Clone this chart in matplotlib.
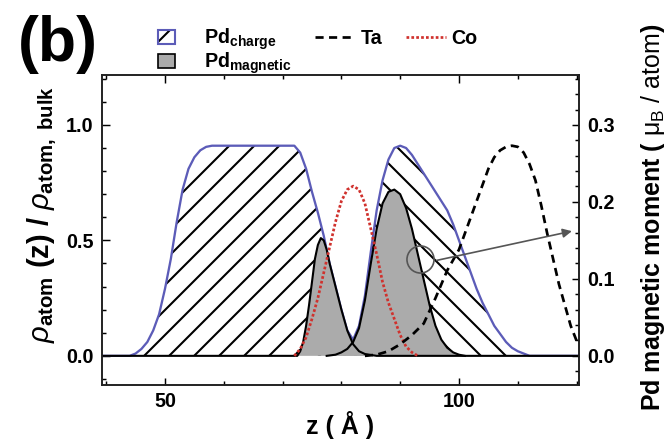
import numpy as np
import matplotlib.pyplot as plt
from matplotlib.patches import Patch, Rectangle
from matplotlib.lines import Line2D
from matplotlib.legend_handler import HandlerPatch, HandlerTuple
from matplotlib.ticker import MultipleLocator

plt.rcParams['font.family'] = ['Liberation Sans', 'DejaVu Sans']
plt.rcParams['font.weight'] = 'bold'
plt.rcParams['mathtext.fontset'] = 'custom'
plt.rcParams['mathtext.rm'] = 'Liberation Sans:weight=normal'
plt.rcParams['mathtext.it'] = 'Liberation Sans:italic:weight=normal'
plt.rcParams['mathtext.bf'] = 'Liberation Sans:bold'
plt.rcParams['hatch.linewidth'] = 1.0

# Pd charge density (rho / rho_bulk)
z_charge = np.array([39, 44, 45, 46, 47, 48, 49, 50, 51, 52, 53, 54, 55, 56, 57, 58,
                     72, 73, 74, 75, 76, 77, 78, 79, 80, 81, 82, 83, 84, 85, 86, 87,
                     88, 89, 90, 91, 92, 93, 94, 95, 96, 97, 98, 99, 100, 101, 102,
                     103, 104, 105, 106, 107, 108, 109, 110, 111, 112, 121])
pd_charge = np.array([0, 0, 0.01, 0.03, 0.06, 0.11, 0.18, 0.29, 0.42, 0.58, 0.72, 0.81,
                      0.86, 0.89, 0.905, 0.91, 0.91, 0.88, 0.81, 0.71, 0.62, 0.52, 0.40,
                      0.30, 0.20, 0.11, 0.07, 0.13, 0.26, 0.45, 0.63, 0.76, 0.85, 0.90,
                      0.91, 0.90, 0.87, 0.83, 0.79, 0.75, 0.71, 0.67, 0.63, 0.57, 0.50,
                      0.43, 0.36, 0.29, 0.23, 0.18, 0.13, 0.095, 0.06, 0.035, 0.02, 0.01,
                      0.0, 0.0])

# Pd magnetic moment (mu_B / atom), lower and upper Pd layer
z_mag1 = np.array([39, 72.5, 73, 73.5, 74, 74.5, 75, 75.5, 76, 76.5, 77, 77.5, 78, 79,
                   80, 81, 82, 83, 84, 86, 121])
pd_mag1 = np.array([0, 0, 0.006, 0.018, 0.039, 0.066, 0.096, 0.126, 0.144, 0.153, 0.150,
                    0.138, 0.120, 0.090, 0.060, 0.033, 0.015, 0.006, 0.0024, 0, 0])
z_mag2 = np.array([77.5, 79, 80, 81, 82, 83, 84, 85, 86, 87, 88, 89, 90, 91, 92, 93, 94,
                   95, 96, 97, 98, 99, 100, 101])
pd_mag2 = np.array([0, 0.0015, 0.0045, 0.009, 0.018, 0.036, 0.072, 0.12, 0.165, 0.198,
                    0.213, 0.216, 0.21, 0.192, 0.165, 0.132, 0.099, 0.066, 0.039, 0.021,
                    0.0105, 0.0045, 0.0015, 0])

# Co and Ta densities
z_co = np.array([72, 73, 74, 75, 76, 77, 78, 79, 80, 81, 82, 83, 84, 85, 86, 87, 88, 89,
                 90, 91, 92, 93])
co = np.array([0, 0.03, 0.08, 0.16, 0.25, 0.36, 0.47, 0.58, 0.67, 0.72, 0.735, 0.72,
               0.66, 0.55, 0.44, 0.32, 0.23, 0.16, 0.09, 0.04, 0.015, 0])
z_ta = np.array([84, 86, 88, 90, 92, 94, 96, 98, 100, 101, 102, 103, 104, 105, 106, 107,
                 108, 109, 110, 111, 112, 113, 114, 115, 116, 117, 118, 119, 120])
ta = np.array([0, 0.005, 0.02, 0.05, 0.09, 0.14, 0.25, 0.37, 0.46, 0.53, 0.60, 0.67,
               0.74, 0.81, 0.86, 0.89, 0.905, 0.91, 0.905, 0.88, 0.83, 0.76, 0.65, 0.53,
               0.42, 0.31, 0.22, 0.13, 0.065])

blue = '#5c5cb8'
gray = '#ababab'
red = '#d0312d'

fig = plt.figure(figsize=(667 / 150, 444 / 150), dpi=150)
ax = fig.add_axes([0.153, 0.133, 0.715, 0.698])
ax2 = ax.twinx()

ax.fill_between(z_charge, pd_charge, where=z_charge <= 82, hatch='//',
                facecolor='white', edgecolor='black', linewidth=0)
ax.fill_between(z_charge, pd_charge, where=z_charge >= 82, hatch='\\\\',
                facecolor='white', edgecolor='black', linewidth=0)
ax.plot(z_charge, pd_charge, color=blue, lw=1.1)

ax2.fill_between(z_mag1, pd_mag1, facecolor=gray, edgecolor='none')
ax2.fill_between(z_mag2, pd_mag2, facecolor=gray, edgecolor='none')
ax2.plot(z_mag1, pd_mag1, color='black', lw=1.0)
ax2.plot(z_mag2, pd_mag2, color='black', lw=1.0)
ax2.plot(z_co, co, color=red, ls=(0, (1, 0.8)), lw=1.3, transform=ax.transData)
ax2.plot(z_ta, ta, color='black', ls=(0, (3, 2)), lw=1.3, transform=ax.transData)

# circle + arrow pointing at the right axis
ax2.plot([93.4], [0.42], marker='o', ms=13, mfc='none', mec='#555555', mew=0.8,
         transform=ax.transData)
ax2.annotate('', xy=(119.2, 0.162), xytext=(96.2, 0.124),
             arrowprops=dict(arrowstyle='-|>', color='#555555', lw=0.8,
                             mutation_scale=9, shrinkA=0, shrinkB=0))

ax.set_xlim(39.3, 120.4)
ax.set_ylim(-0.126, 1.216)
ax2.set_ylim(-0.126 * 0.3, 1.216 * 0.3)

ax.xaxis.set_major_locator(MultipleLocator(50))
ax.xaxis.set_minor_locator(MultipleLocator(10))
ax.yaxis.set_major_locator(MultipleLocator(0.5))
ax.yaxis.set_minor_locator(MultipleLocator(0.1))
ax2.yaxis.set_major_locator(MultipleLocator(0.1))
ax2.yaxis.set_minor_locator(MultipleLocator(0.02))
ax.yaxis.set_major_formatter('{x:.1f}')
ax2.yaxis.set_major_formatter('{x:.1f}')

ax.tick_params(which='both', direction='in', top=True, right=False, width=0.7,
               labelsize=9.5, pad=4)
ax.tick_params(which='major', length=3.6)
ax.tick_params(which='minor', length=2)
ax.tick_params(axis='x', pad=3.5)
ax2.tick_params(which='both', direction='in', width=0.7, labelsize=9.5, pad=4)
ax2.tick_params(which='major', length=3.6)
ax2.tick_params(which='minor', length=2)
for a in (ax, ax2):
    for s in a.spines.values():
        s.set_linewidth(0.8)
        s.set_color('#222222')

ax.set_xlabel('z ( Å )', fontsize=12, fontweight='bold', labelpad=0)
ax.set_ylabel(r'$\rho_{\mathbf{atom}}$ (z) / $\rho_{\mathbf{atom,\ bulk}}$', fontsize=14,
              fontweight='bold')
ax.yaxis.set_label_coords(-0.09, 0.55)
ax2.set_ylabel(r'Pd magnetic moment ( $\mathrm{μ_B\ /\ atom}$)', fontsize=12,
               fontweight='bold')
ax2.yaxis.set_label_coords(1.125, 0.54)

fig.text(58 / 667, 1 - 45 / 444, '(b)', ha='center', va='center', fontsize=30,
         fontweight='bold')


def small_box(legend, orig_handle, xdescent, ydescent, width, height, fontsize):
    return Rectangle((-xdescent, -ydescent), height * 1.2, height)


h_charge = (Patch(facecolor='white', edgecolor='black', hatch='//', lw=0),
            Patch(facecolor='none', edgecolor=blue, lw=1.0))
h_mag = Patch(facecolor=gray, edgecolor='black', lw=0.8)
h_ta = Line2D([], [], color='black', ls=(0, (3, 2)), lw=1.3)
h_co = Line2D([], [], color=red, ls=(0, (1, 0.8)), lw=1.3)
fig.legend([h_charge, h_mag, h_ta, h_co],
           [r'Pd$_{\mathbf{charge}}$', r'Pd$_{\mathbf{magnetic}}$', 'Ta', 'Co'],
           ncol=3, loc='upper left', bbox_to_anchor=(158 / 667, 1 - 27 / 444),
           frameon=False, fontsize=9.5, borderpad=0, borderaxespad=0,
           handlelength=2.0, handleheight=0.7, handletextpad=0.3,
           columnspacing=1.2, labelspacing=-0.1,
           handler_map={Patch: HandlerPatch(patch_func=small_box),
                        tuple: HandlerTuple(ndivide=1)})

fig.savefig('out.png', dpi=150)
